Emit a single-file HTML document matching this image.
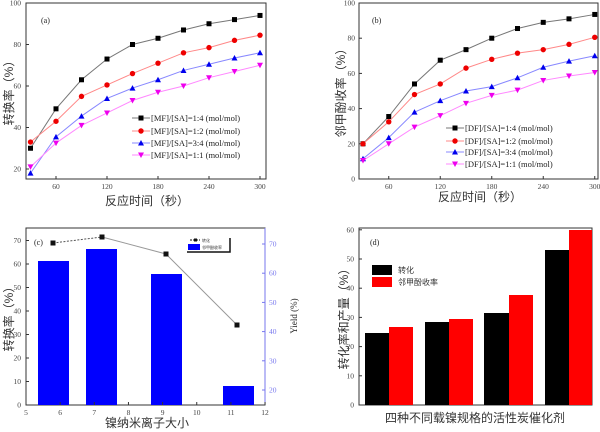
<!DOCTYPE html>
<html><head><meta charset="utf-8"><style>
html,body{margin:0;padding:0;background:#fff;}
svg{display:block;}
.t{font-family:"Liberation Serif",serif;font-size:7.5px;fill:#444;}
.c{font-family:"Liberation Sans","Noto Sans CJK SC",sans-serif;fill:#333;}
</style></head><body>
<svg id="s" width="600" height="432" viewBox="0 0 600 432" xmlns="http://www.w3.org/2000/svg">
<rect width="600" height="432" fill="#fff"/>
<rect x="26" y="3" width="240" height="176" fill="none" stroke="#333" stroke-width="1"/>
<text class="t" x="41" y="23" style="font-size:8px;fill:#222">(a)</text>
<text class="c" font-size="12" transform="translate(13,90) rotate(-90)" text-anchor="middle">转换率（%）</text>
<text class="c" font-size="12" x="147" y="205" text-anchor="middle">反应时间（秒）</text>
<rect x="359" y="3" width="239" height="176" fill="none" stroke="#333" stroke-width="1"/>
<text class="t" x="372" y="23" style="font-size:8px;fill:#222">(b)</text>
<text class="c" font-size="12" transform="translate(345,90) rotate(-90)" text-anchor="middle">邻甲酚收率（%）</text>
<text class="c" font-size="12" x="480" y="201" text-anchor="middle">反应时间（秒）</text>
<rect x="26" y="228" width="239" height="177" fill="none" stroke="#333" stroke-width="1"/>
<line x1="265" y1="228" x2="265" y2="405" stroke="#7777ee" stroke-width="1"/>
<g fill="#0000ff">
<rect x="38" y="261" width="31" height="144"/>
<rect x="86" y="249" width="31" height="156"/>
<rect x="151" y="274" width="31" height="131"/>
<rect x="223" y="386" width="31" height="19"/>
</g>
<line x1="53" y1="243" x2="102" y2="237" stroke="#555" stroke-dasharray="2,1.5"/>
<polyline points="102,237 166,254 237,325" fill="none" stroke="#999" stroke-width="1"/>
<g fill="#111"><rect x="50.5" y="240.5" width="5" height="5"/><rect x="99.5" y="234.5" width="5" height="5"/><rect x="163.5" y="251.5" width="5" height="5"/><rect x="234.5" y="322.5" width="5" height="5"/></g>
<text class="t" x="34" y="245" style="font-size:8px;fill:#222">(c)</text>
<rect x="187" y="238" width="43" height="14" fill="#fff" stroke="#fff"/>
<polyline points="230,238 230,252 187,252" fill="none" stroke="#111" stroke-width="1.5"/>
<line x1="190" y1="240" x2="200" y2="240" stroke="#111" stroke-dasharray="2,1"/><rect x="194" y="238.5" width="3" height="3" fill="#111"/>
<text x="202" y="242" font-size="4" class="c">转化</text>
<rect x="188" y="244" width="12" height="6" fill="#0000ff"/>
<text x="202" y="249" font-size="4" class="c">邻甲酚收率</text>
<text class="c" font-size="12" transform="translate(13,316) rotate(-90)" text-anchor="middle">转换率（%）</text>
<text class="c" font-size="12" x="147" y="427" text-anchor="middle">镍纳米离子大小</text>
<text class="t" transform="translate(297,316) rotate(-90)" text-anchor="middle" style="font-size:9px;fill:#222">Yield (%)</text>
<rect x="359" y="228" width="233" height="177" fill="none" stroke="#333" stroke-width="1"/>
<g fill="#000"><rect x="365" y="333" width="24" height="72"/><rect x="425" y="322" width="24" height="83"/><rect x="484" y="313" width="25" height="92"/><rect x="545" y="250" width="24" height="155"/></g>
<g fill="#ff0000"><rect x="389" y="327" width="24" height="78"/><rect x="449" y="319" width="24" height="86"/><rect x="509" y="295" width="24" height="110"/><rect x="569" y="230" width="23" height="175"/></g>
<text class="t" x="370" y="245" style="font-size:8px;fill:#222">(d)</text>
<rect x="372" y="265" width="20" height="10" fill="#000"/>
<rect x="372" y="277" width="20" height="10" fill="#ff0000"/>
<text class="c" font-size="8" x="398" y="273">转化</text>
<text class="c" font-size="8" x="398" y="285">邻甲酚收率</text>
<text class="c" font-size="12" transform="translate(348,316) rotate(-90)" text-anchor="middle">转化率和产量（%）</text>
<text class="c" font-size="12" x="475" y="422" text-anchor="middle">四种不同载镍规格的活性炭催化剂</text>
<g id="dyn"></g>
</svg>
<script>
var g=document.getElementById('dyn'),h='';
function ln(x1,y1,x2,y2,c){h+='<line x1="'+x1+'" y1="'+y1+'" x2="'+x2+'" y2="'+y2+'" stroke="'+(c||'#333')+'" stroke-width="1"/>';}
function tx(x,y,s,a,c){h+='<text class="t" x="'+x+'" y="'+y+'" text-anchor="'+(a||'middle')+'"'+(c?' style="fill:'+c+'"':'')+'>'+s+'</text>';}
function mk(t,x,y,c){
 if(t==0)h+='<rect x="'+(x-2.5)+'" y="'+(y-2.5)+'" width="5" height="5" fill="'+c+'"/>';
 else if(t==1)h+='<circle cx="'+x+'" cy="'+y+'" r="2.7" fill="'+c+'"/>';
 else if(t==2)h+='<polygon points="'+x+','+(y-3)+' '+(x+3)+','+(y+2.5)+' '+(x-3)+','+(y+2.5)+'" fill="'+c+'"/>';
 else h+='<polygon points="'+x+','+(y+3)+' '+(x+3)+','+(y-2.5)+' '+(x-3)+','+(y-2.5)+'" fill="'+c+'"/>';}
var cols=['#000','#e00','#00e','#e0e'],lcols=['#777','#f88','#88f','#f8f'];
function panel(X,Y,data,leg,lx,ly){
 for(var s=0;s<4;s++){var p=[];for(var i=0;i<10;i++)p.push(X(30+30*i)+','+Y(data[s][i]));
  h+='<polyline points="'+p.join(' ')+'" fill="none" stroke="'+lcols[s]+'" stroke-width="1"/>';
  for(var i=0;i<10;i++)mk(s,X(30+30*i),Y(data[s][i]),cols[s]);
  var yy=ly[s];ln(lx-9,yy,lx+9,yy,lcols[s]);mk(s,lx,yy,cols[s]);
  h+='<text class="t" x="'+(lx+10)+'" y="'+(yy+3)+'" style="font-size:8.5px;fill:#222">'+leg[s]+'</text>';}
}
var Xa=function(v){return 30.5+(v-30)*25.5/30},Ya=function(v){return 169-(v-20)*2.075};
for(var v=20;v<=100;v+=20){ln(26,Ya(v),29,Ya(v));tx(21,Ya(v)+2.5,v,'end');}
for(var v=60;v<=300;v+=60){ln(Xa(v),179,Xa(v),176);tx(Xa(v),189,v);}
panel(Xa,Ya,[[30,49,63,73,80,83,87,90,92,94],[33,43,55,60.5,66,71,76,78.5,82,84.5],[18,35.5,45.5,54,59,63,67.5,70.5,73.5,76],[21,32.5,41,47,53,57,60,64,67,70]],
['[MF]/[SA]=1:4 (mol/mol)','[MF]/[SA]=1:2 (mol/mol)','[MF]/[SA]=3:4 (mol/mol)','[MF]/[SA]=1:1 (mol/mol)'],141,[118,131,143,155]);
var Xb=function(v){return 363+(v-30)*25.75/30},Yb=function(v){return 179-v*1.76};
for(var v=0;v<=100;v+=20){ln(359,Yb(v),362,Yb(v));tx(355,Yb(v)+2.5,v,'end');}
for(var v=60;v<=300;v+=60){ln(Xb(v),179,Xb(v),176);tx(Xb(v),189,v);}
panel(Xb,Yb,[[20,35.5,54,67.5,73.5,80,85.5,89,91,93.5],[20,32.5,48,54,63,68,71.5,73.5,76.5,80.5],[11.5,23.5,38,44.5,50,52.5,57.5,63.5,67,70],[10.5,20,29.5,36,43,47.5,50.5,56,58.5,60.5]],
['[DF]/[SA]=1:4 (mol/mol)','[DF]/[SA]=1:2 (mol/mol)','[DF]/[SA]=3:4 (mol/mol)','[DF]/[SA]=1:1 (mol/mol)'],455,[128,141,152,164]);
for(var v=0;v<=70;v+=10){var y=405-v*2.35;ln(26,y,29,y);tx(21,y+2.5,v,'end');}
for(var v=5;v<=12;v++){var x=26+(v-5)*34.15;ln(x,405,x,402);tx(x,415,v);}
for(var v=20;v<=70;v+=10){var y=390-(v-20)*2.92;ln(265,y,262,y,'#7777ee');tx(269,y+2.5,v,'start','#7777ee');}
for(var v=0;v<=60;v+=10){var y=405-v*2.92;ln(359,y,362,y);tx(354,y+2.5,v,'end');}
g.innerHTML=h;
</script>
</body></html>
